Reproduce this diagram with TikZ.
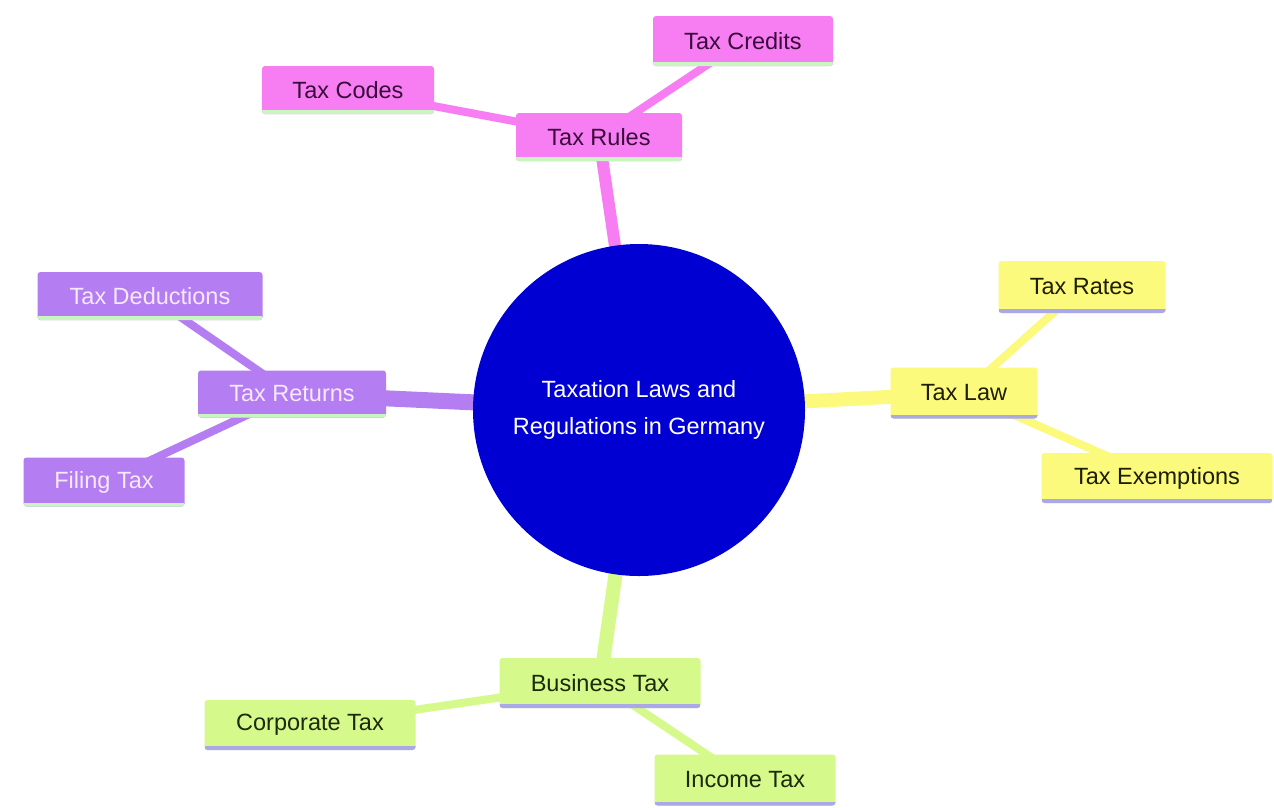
\documentclass[tikz,border=0pt]{standalone}
\usepackage{fontspec}
\setmainfont{Liberation Sans}
\usetikzlibrary{backgrounds}
\definecolor{pinkbox}{HTML}{F67EF2}
\definecolor{purplebox}{HTML}{B47EF2}
\definecolor{yellowbox}{HTML}{FBFA7C}
\definecolor{greenbox}{HTML}{D6F98C}
\definecolor{lgreenline}{HTML}{C8F5C0}
\definecolor{lavline}{HTML}{ABA8E8}
\definecolor{pinktext}{HTML}{3A0A3A}
\definecolor{purpletext}{HTML}{F6E8FF}
\definecolor{yellowtext}{HTML}{1E1E00}
\definecolor{greentext}{HTML}{1A2A0A}
\definecolor{centerblue}{HTML}{0000D2}
\tikzset{
  box/.style={rectangle, rounded corners=3pt, inner sep=0pt, font=\fontsize{23.5}{28}\selectfont},
  under/.style={path picture={\draw[line width=8pt,#1]
     (path picture bounding box.south west) -- (path picture bounding box.south east);}},
  pinknode/.style={box, fill=pinkbox, text=pinktext, under=lgreenline},
  purplenode/.style={box, fill=purplebox, text=purpletext, under=lgreenline},
  yellownode/.style={box, fill=yellowbox, text=yellowtext, under=lavline},
  greennode/.style={box, fill=greenbox, text=greentext, under=lavline},
  mainedge/.style={line width=14pt},
  subedge/.style={line width=8pt},
}
\begin{document}
\begin{tikzpicture}[x=1pt,y=-1pt]
\useasboundingbox (0,0) rectangle (1274,807);

\node[circle, fill=centerblue, minimum size=332pt, inner sep=0pt, text=white,
      align=center, font=\fontsize{23.5}{37}\selectfont] (root) at (639,410)
      {Taxation Laws and\\Regulations in Germany};

% Tax Rules branch
\node[pinknode, minimum width=166pt, minimum height=48pt] (rules) at (599,137) {Tax Rules};
\node[pinknode, minimum width=180pt, minimum height=50pt] (credits) at (743,41) {Tax Credits};
\node[pinknode, minimum width=172pt, minimum height=48pt] (codes) at (348,90) {Tax Codes};

% Tax Returns branch
\node[purplenode, minimum width=188pt, minimum height=47pt] (returns) at (292,394) {Tax Returns};
\node[purplenode, minimum width=225pt, minimum height=48pt] (deductions) at (150,296) {Tax Deductions};
\node[purplenode, minimum width=161pt, minimum height=49pt] (filing) at (104,482) {Filing Tax};

% Tax Law branch
\node[yellownode, minimum width=147pt, minimum height=51pt] (law) at (964,393) {Tax Law};
\node[yellownode, minimum width=167pt, minimum height=52pt] (rates) at (1082,287) {Tax Rates};
\node[yellownode, minimum width=231pt, minimum height=50pt] (exemptions) at (1157,478) {Tax Exemptions};

% Business Tax branch
\node[greennode, minimum width=201pt, minimum height=50pt] (business) at (600,683) {Business Tax};
\node[greennode, minimum width=211pt, minimum height=50pt] (corporate) at (310,725) {Corporate Tax};
\node[greennode, minimum width=181pt, minimum height=51pt] (income) at (745,780) {Income Tax};

\begin{pgfonlayer}{background}
\fill[white] (0,0) rectangle (1274,807);
\draw[mainedge, line width=12pt, pinkbox] (root.center) -- (rules.center);
\draw[subedge, pinkbox] (rules.center) -- (credits.center);
\draw[subedge, pinkbox] (rules.center) -- (codes.center);
\draw[mainedge, line width=16pt, purplebox] (root.center) -- (returns.center);
\draw[subedge, purplebox] (returns.center) -- (deductions.center);
\draw[subedge, purplebox] (returns.center) -- (filing.center);
\draw[mainedge, yellowbox] (root.center) -- (law.center);
\draw[subedge, yellowbox] (law.center) -- (rates.center);
\draw[subedge, yellowbox] (law.center) -- (exemptions.center);
\draw[mainedge, greenbox] (root.center) -- (business.center);
\draw[subedge, greenbox] (business.center) -- (corporate.center);
\draw[subedge, greenbox] (business.center) -- (income.center);
\end{pgfonlayer}
\end{tikzpicture}
\end{document}
